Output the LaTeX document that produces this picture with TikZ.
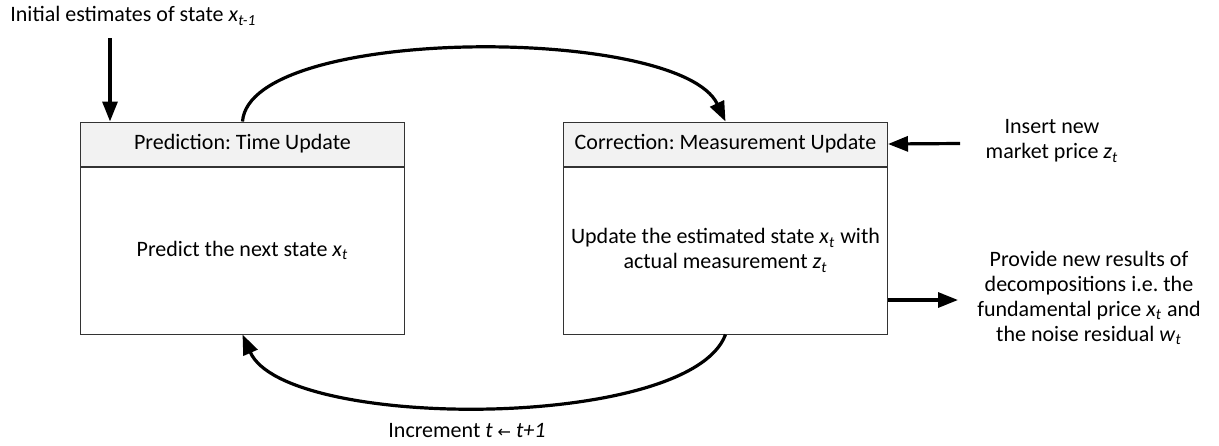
\documentclass[tikz,border=0pt]{standalone}
\usepackage{fontspec}
\setmainfont{Carlito}
\newfontfamily\arrowfont{DejaVu Sans}
\usetikzlibrary{positioning,arrows.meta}
\frenchspacing
\newcommand{\varsub}[2]{\textit{#1}\textsubscript{\textit{#2}}}
\tikzset{
  head/.style={draw=black!80, fill=black!5, line width=0.5pt, minimum width=162pt, minimum height=22pt, inner sep=0pt},
  body/.style={draw=black!80, line width=0.5pt, minimum width=162pt, minimum height=83.5pt, align=center, inner sep=0pt},
  flow/.style={line width=1.6pt, -{Triangle[length=10pt,width=7.5pt]}},
  note/.style={align=center, inner sep=0pt}
}
\begin{document}
\begin{tikzpicture}[x=0.5pt,y=-0.5pt,font=\fontsize{11}{12.5}\selectfont]
        \useasboundingbox (0,0) rectangle (1219,445);
        %% Prediction box
        \node[head, anchor=north west] (predHead) at (80,121.5) {Prediction: Time Update};
        \node[body, below=0pt of predHead] (predBody) {Predict the next state \varsub{x}{t}};
        %% Correction box
        \node[head, anchor=north west] (corrHead) at (563,121.5) {Correction: Measurement Update};
        \node[body, below=0pt of corrHead] (corrBody) {Update the estimated state \varsub{x}{t} with\\actual measurement \varsub{z}{t}};
        %% Notes
        \node[note, anchor=west] (initNote) at (10,16) {Initial estimates of state \varsub{x}{t-1}};
        \node[note] (insertNote) at (1052,141) {Insert new\\market price \varsub{z}{t}};
        \node[note] (outNote) at (1089,298) {Provide new results of\\decompositions i.e. the\\fundamental price \varsub{x}{t} and\\the noise residual \varsub{w}{t}};
        \node[note] (incNote) at (467,430) {Increment \textit{t} {\arrowfont\fontsize{8}{9}\selectfont ←} \textit{t+1}};
        %% Arrows
        \coordinate (initTop) at (110,38);
        \draw[flow] (initTop) -- (initTop |- predHead.north);
        \draw[flow] (predHead.north) .. controls (250,25) and (680,25) .. (corrHead.north);
        \draw[flow] (corrBody.south) .. controls (690,431) and (285,431) .. (predBody.south);
        \coordinate (insertStart) at (960,143.5);
        \draw[flow] (insertStart) -- (corrHead.east);
        \coordinate (outEnd) at (958,300);
        \draw[flow] (outEnd -| corrBody.east) -- (outEnd);
    \end{tikzpicture}
\end{document}
